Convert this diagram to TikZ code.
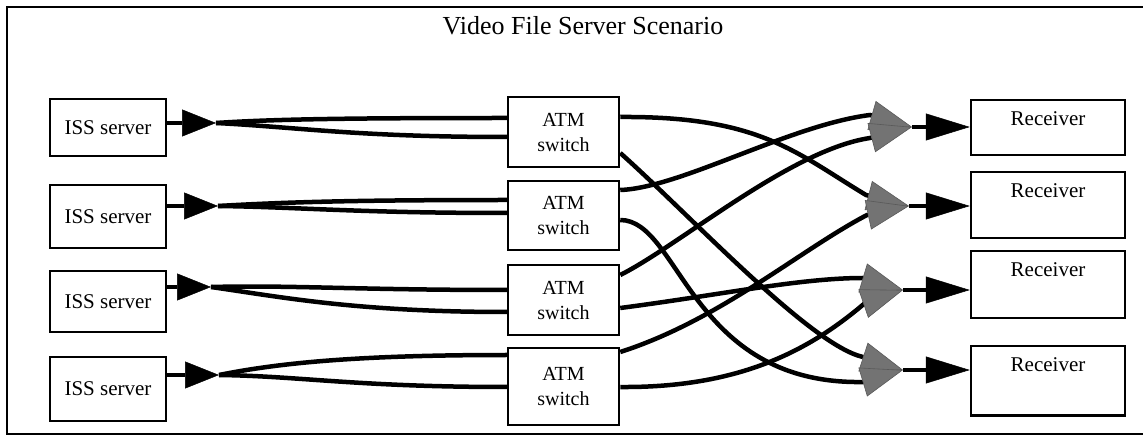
\documentclass[tikz,border=0pt]{standalone}
\usepackage{fontspec}
\setmainfont{Liberation Serif}
\usetikzlibrary{arrows.meta}
\definecolor{tipgray}{gray}{0.45}
\begin{document}
\begin{tikzpicture}[x=1pt,y=-1pt,
  box/.style={draw,line width=2.5pt,inner sep=0pt,font=\fontsize{21}{25}\selectfont},
  issbox/.style={box,minimum width=116pt},
  atmbox/.style={box,minimum width=111pt,align=center,font=\fontsize{20}{25}\selectfont},
  recvbox/.style={box,minimum width=154pt,anchor=north,text height=25pt},
  conn/.style={line width=4.5pt},
  ltip/.style={-{Triangle[length=34pt,width=27pt,line width=0.5pt]}},
  rtip/.style={-{Triangle[length=44pt,width=27pt,line width=0.5pt]}},
  gtip/.style={-{Triangle[length=42pt,width=30pt,line width=0.6pt,color=black!65,fill=tipgray]}}]
\useasboundingbox (0,0) rectangle (1143,435);
\draw[line width=2pt] (1143,7) -- (7,7) -- (7,434) -- (1143,434);
\node[font=\fontsize{26}{30}\selectfont,anchor=base] (title) at (583,35) {Video File Server Scenario};
% ISS servers
\node[issbox,minimum height=57pt] (i1) at (108,127.5) {ISS server};
\node[issbox,minimum height=63pt] (i2) at (108,216.5) {ISS server};
\node[issbox,minimum height=61pt] (i3) at (108,301.5) {ISS server};
\node[issbox,minimum height=64pt] (i4) at (108,389) {ISS server};
% ATM switches
\node[atmbox,minimum height=70pt] (a1) at (563.5,132) {ATM\\switch};
\node[atmbox,minimum height=69pt] (a2) at (563.5,215.5) {ATM\\switch};
\node[atmbox,minimum height=70pt] (a3) at (563.5,300) {ATM\\switch};
\node[atmbox,minimum height=77pt] (a4) at (563.5,386.5) {ATM\\switch};
% Receivers
\node[recvbox,text depth=30pt] (r1) at (1048,99) {Receiver};
\node[recvbox,text depth=41pt] (r2) at (1048,171) {Receiver};
\node[recvbox,text depth=42pt] (r3) at (1048,250) {Receiver};
\node[recvbox,text depth=44pt] (r4) at (1048,345) {Receiver};
% junction points
\coordinate (p1) at (216,123);
\coordinate (p2) at (218,206);
\coordinate (p3) at (211,287);
\coordinate (p4) at (219,375);
\coordinate (t1) at (912,127);
\coordinate (t2) at (909,206);
\coordinate (t3) at (903,290);
\coordinate (t4) at (903,370);
% ISS -> ATM
\draw[conn,ltip] (i1.east |- p1) -- (p1);
\draw[conn,ltip] (i2.east |- p2) -- (p2);
\draw[conn,ltip] (i3.east |- p3) -- (p3);
\draw[conn,ltip] (i4.east |- p4) -- (p4);
\draw[conn] (p1) .. controls +(60,-4) and +(-150,0) .. (a1.west |- 0,118);
\draw[conn] (p1) .. controls +(80,4) and +(-150,0) .. (a1.west |- 0,137);
\draw[conn] (p2) .. controls +(70,-4) and +(-150,0) .. (a2.west |- 0,200);
\draw[conn] (p2) .. controls +(80,1) and +(-150,0) .. (a2.west |- 0,213);
\draw[conn] (p3) .. controls +(80,-2) and +(-150,0) .. (a3.west |- 0,290);
\draw[conn] (p3) .. controls +(70,10) and +(-150,0) .. (a3.west |- 0,312);
\draw[conn] (p4) .. controls +(60,-12) and +(-150,0) .. (a4.west |- 0,355);
\draw[conn] (p4) .. controls +(80,1) and +(-150,0) .. (a4.west |- 0,387);
% ATM -> receivers
\draw[conn,gtip] (a1.east |- 0,117) .. controls (760,116) and (796,153) .. (866,195) -- (t2);
\draw[conn,gtip] (a1.east |- 0,153) .. controls (690,215) and (810,345) .. (863,357) -- (t4);
\draw[conn,gtip] (a2.east |- 0,190) .. controls (680,188) and (790,125) .. (870,115) -- (t1);
\draw[conn,gtip] (a2.east |- 0,220) .. controls (680,220) and (690,385) .. (863,382) -- (t4);
\draw[conn,gtip] (a3.east |- 0,275) .. controls (680,245) and (790,150) .. (870,138) -- (t1);
\draw[conn,gtip] (a3.east |- 0,308) .. controls (720,295) and (800,278) .. (863,278) -- (t3);
\draw[conn,gtip] (a4.east |- 0,352) .. controls (720,320) and (800,250) .. (867,215) -- (t2);
\draw[conn,gtip] (a4.east |- 0,387) .. controls (740,388) and (810,350) .. (865,303) -- (t3);
% into receivers
\draw[conn,rtip] (t1) -- (r1.west |- t1);
\draw[conn,rtip] (t2) -- (r2.west |- t2);
\draw[conn,rtip] (t3) -- (r3.west |- t3);
\draw[conn,rtip] (t4) -- (r4.west |- t4);
\end{tikzpicture}
\end{document}
